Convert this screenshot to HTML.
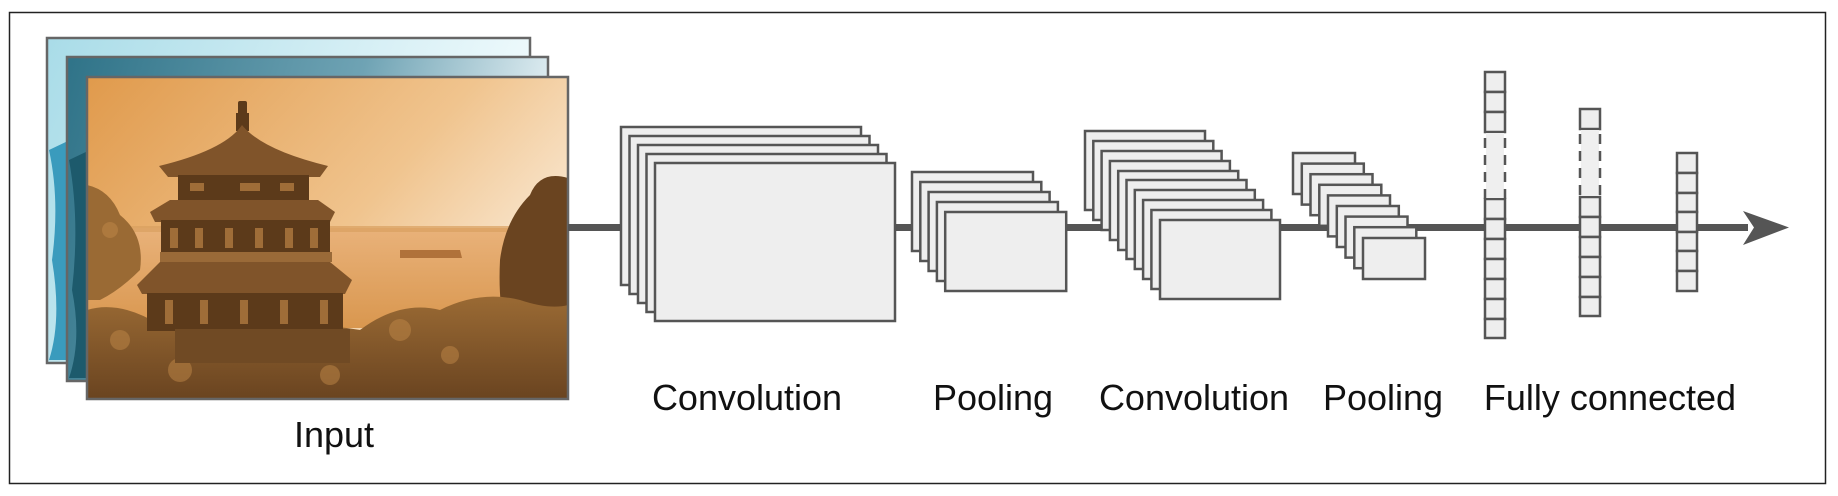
<!DOCTYPE html>
<html><head><meta charset="utf-8"><style>
html,body{margin:0;padding:0;background:#fff}
svg{display:block}
text{font-family:"Liberation Sans",Arial,sans-serif;font-size:36px;fill:#111}
</style></head><body>
<svg width="1838" height="496" viewBox="0 0 1838 496" xmlns="http://www.w3.org/2000/svg">
<defs>
<linearGradient id="c1" x1="0" y1="0" x2="1" y2="0.3"><stop offset="0" stop-color="#a9dce8"/><stop offset="1" stop-color="#f2fbfd"/></linearGradient>
<linearGradient id="c2" x1="0" y1="0" x2="1" y2="0.2"><stop offset="0" stop-color="#2f7388"/><stop offset="0.6" stop-color="#6fa3b4"/><stop offset="1" stop-color="#e4f0f4"/></linearGradient>
<linearGradient id="sky" x1="0" y1="0" x2="1" y2="0.6"><stop offset="0" stop-color="#e09a4c"/><stop offset="0.6" stop-color="#f0c48e"/><stop offset="1" stop-color="#fbeedd"/></linearGradient>
<linearGradient id="water" x1="0" y1="0" x2="0" y2="1"><stop offset="0" stop-color="#e9b27a"/><stop offset="1" stop-color="#d9974f"/></linearGradient>
<linearGradient id="trees" x1="0" y1="0" x2="0" y2="1"><stop offset="0" stop-color="#9a6a34"/><stop offset="1" stop-color="#6a4420"/></linearGradient>
<clipPath id="fc"><rect x="87" y="77" width="481" height="322"/></clipPath>
</defs>
<rect x="9.5" y="12.5" width="1816" height="471" fill="#fff" stroke="#222" stroke-width="1.5"/>

<rect x="47" y="38" width="483" height="325" fill="url(#c1)" stroke="#666" stroke-width="2.5"/>
<path d="M49 150 Q60 200 52 260 Q62 320 49 360 L70 360 L70 140Z" fill="#3a9bbd"/>
<rect x="67" y="57" width="481" height="324" fill="url(#c2)" stroke="#666" stroke-width="2.5"/>
<path d="M69 160 Q80 220 72 290 Q82 340 69 378 L90 378 L90 150Z" fill="#1d5a6c"/>
<g clip-path="url(#fc)">
<rect x="87" y="77" width="481" height="322" fill="url(#sky)"/>
<rect x="87" y="228" width="481" height="100" fill="url(#water)"/>
<rect x="87" y="226" width="481" height="6" fill="#d9a060" opacity="0.7"/>
<path d="M400 250 L460 250 L462 258 L400 258Z" fill="#b0723a"/>
<path d="M87 185 Q110 190 120 215 Q145 235 140 270 Q120 290 100 300 L87 300Z" fill="#9a6a34"/>
<path d="M568 178 Q540 170 530 195 Q505 220 500 260 Q498 300 505 330 L568 330Z" fill="#6a4420"/>
<path d="M87 310 Q120 300 160 325 Q200 305 240 330 Q300 320 360 330 Q400 300 440 310 Q480 290 520 300 Q550 310 568 305 L568 399 L87 399Z" fill="url(#trees)"/>
<g fill="#c08848" opacity="0.5">
<circle cx="120" cy="340" r="10"/><circle cx="180" cy="370" r="12"/><circle cx="400" cy="330" r="11"/><circle cx="450" cy="355" r="9"/><circle cx="330" cy="375" r="10"/><circle cx="110" cy="230" r="8"/>
</g>
<g fill="#5c3a1a">
<rect x="238" y="101" width="9" height="14" rx="2"/>
<rect x="236" y="113" width="13" height="18"/>
<path d="M242 125 Q225 150 159 166 L168 177 L320 177 L328 166 Q262 150 242 125Z" fill="#80542a"/>
<rect x="178" y="175" width="131" height="28"/>
<path d="M150 212 L170 200 L318 200 L335 212 L330 222 L155 222Z" fill="#80542a"/>
<rect x="161" y="220" width="169" height="34"/>
<rect x="160" y="252" width="172" height="10" fill="#9a6a38"/>
<path d="M137 285 L160 262 L330 262 L352 280 L345 294 L142 294Z" fill="#80542a"/>
<rect x="147" y="293" width="196" height="38"/>
<rect x="175" y="329" width="175" height="34" fill="#704a24"/>
</g>
<g fill="#b07a40" opacity="0.8">
<rect x="190" y="183" width="14" height="8"/><rect x="240" y="183" width="20" height="8"/><rect x="280" y="183" width="14" height="8"/>
<rect x="170" y="228" width="8" height="20"/><rect x="195" y="228" width="8" height="20"/><rect x="225" y="228" width="8" height="20"/><rect x="255" y="228" width="8" height="20"/><rect x="285" y="228" width="8" height="20"/><rect x="310" y="228" width="8" height="20"/>
<rect x="165" y="300" width="8" height="24"/><rect x="200" y="300" width="8" height="24"/><rect x="240" y="300" width="8" height="24"/><rect x="280" y="300" width="8" height="24"/><rect x="320" y="300" width="8" height="24"/>
</g>
</g>
<rect x="87" y="77" width="481" height="322" fill="none" stroke="#666" stroke-width="2.5"/>
<text x="334" y="447" text-anchor="middle">Input</text>

<rect x="568" y="224" width="1180" height="7" fill="#555"/>
<path d="M1743 211 L1789 227.5 L1743 245 L1754 227.5Z" fill="#555"/>

<g fill="#eeeeee" stroke="#555" stroke-width="2.5">
<rect x="621" y="127" width="240" height="158"/>
<rect x="629.5" y="136" width="240" height="158"/>
<rect x="638" y="145" width="240" height="158"/>
<rect x="646.5" y="154" width="240" height="158"/>
<rect x="655" y="163" width="240" height="158"/>
<rect x="912" y="172" width="121" height="79"/>
<rect x="920.3" y="182" width="121" height="79"/>
<rect x="928.6" y="192" width="121" height="79"/>
<rect x="936.9" y="202" width="121" height="79"/>
<rect x="945.2" y="212" width="121" height="79"/>
<rect x="1085" y="131" width="120" height="79"/>
<rect x="1093.3" y="141" width="120" height="79"/>
<rect x="1101.6" y="151" width="120" height="79"/>
<rect x="1109.9" y="161" width="120" height="79"/>
<rect x="1118.2" y="171" width="120" height="79"/>
<rect x="1126.5" y="180" width="120" height="79"/>
<rect x="1134.8" y="190" width="120" height="79"/>
<rect x="1143.1" y="200" width="120" height="79"/>
<rect x="1151.4" y="210" width="120" height="79"/>
<rect x="1160" y="220" width="120" height="79"/>
<rect x="1293" y="153" width="62" height="41"/>
<rect x="1301.8" y="163.6" width="62" height="41"/>
<rect x="1310.5" y="174.2" width="62" height="41"/>
<rect x="1319.3" y="184.8" width="62" height="41"/>
<rect x="1328" y="195.4" width="62" height="41"/>
<rect x="1336.8" y="206" width="62" height="41"/>
<rect x="1345.5" y="216.6" width="62" height="41"/>
<rect x="1354.3" y="227.2" width="62" height="41"/>
<rect x="1363" y="238" width="62" height="41"/>
</g>

<g fill="#eeeeee" stroke="#555" stroke-width="2.5">
<rect x="1485" y="72" width="20" height="20"/><rect x="1485" y="92" width="20" height="20"/><rect x="1485" y="112" width="20" height="20"/>
<rect x="1485" y="199" width="20" height="20"/><rect x="1485" y="219" width="20" height="20"/><rect x="1485" y="239" width="20" height="20"/><rect x="1485" y="259" width="20" height="20"/><rect x="1485" y="279" width="20" height="20"/><rect x="1485" y="299" width="20" height="20"/><rect x="1485" y="319" width="20" height="19"/>
<rect x="1580" y="109" width="20" height="20"/>
<rect x="1580" y="197" width="20" height="20"/><rect x="1580" y="217" width="20" height="20"/><rect x="1580" y="237" width="20" height="20"/><rect x="1580" y="257" width="20" height="20"/><rect x="1580" y="277" width="20" height="20"/><rect x="1580" y="297" width="20" height="19"/>
<rect x="1677" y="153" width="20" height="20"/><rect x="1677" y="173" width="20" height="20"/><rect x="1677" y="193" width="20" height="19"/><rect x="1677" y="212" width="20" height="20"/><rect x="1677" y="232" width="20" height="19"/><rect x="1677" y="251" width="20" height="20"/><rect x="1677" y="271" width="20" height="20"/>
</g>
<g fill="#efefef" stroke="none"><rect x="1486" y="133" width="18" height="65"/><rect x="1581" y="130" width="18" height="66"/></g>
<g stroke="#555" stroke-width="2.5" stroke-dasharray="10,7">
<line x1="1485" y1="138" x2="1485" y2="199"/><line x1="1505" y1="138" x2="1505" y2="199"/>
<line x1="1580" y1="134" x2="1580" y2="197"/><line x1="1600" y1="134" x2="1600" y2="197"/>
</g>
<rect x="1505" y="224" width="75" height="7" fill="#555"/>
<rect x="1600" y="224" width="77" height="7" fill="#555"/>

<text x="747" y="410" text-anchor="middle">Convolution</text>
<text x="993" y="410" text-anchor="middle">Pooling</text>
<text x="1194" y="410" text-anchor="middle">Convolution</text>
<text x="1383" y="410" text-anchor="middle">Pooling</text>
<text x="1610" y="410" text-anchor="middle">Fully connected</text>
</svg>
</body></html>
